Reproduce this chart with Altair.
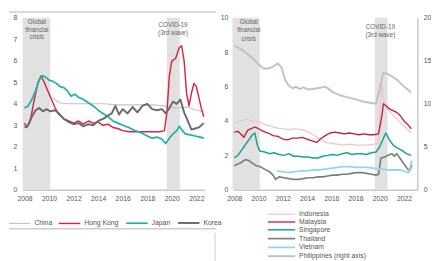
import altair as alt
import pandas as pd

# ---------------- Left panel data ----------------
left_series = ["China", "Hong Kong", "Japan", "Korea"]
left_colors = ["#c4c4c4", "#d7263d", "#1ab3a6", "#6b6b6b"]
left_widths = [1.2, 2.0, 1.6, 1.3]

china_x = [2010.3, 2010.8, 2011.5, 2012.5, 2013.5, 2014.5, 2015.5, 2016.5, 2017.5, 2018.5, 2019.3, 2019.8, 2020.5, 2021.3, 2022.0, 2022.6]
china_y = [4.3, 4.05, 4.0, 4.0, 4.0, 4.0, 3.95, 3.95, 3.95, 3.95, 3.9, 3.85, 3.8, 3.85, 3.7, 3.65]

hk_x = [2008.0, 2008.2, 2008.5, 2008.8, 2009.1, 2009.35, 2009.6, 2009.9, 2010.2, 2010.5, 2010.8, 2011.2, 2011.6, 2012.0, 2012.4, 2012.8, 2013.2, 2013.6, 2014.0, 2014.4, 2014.8, 2015.2, 2015.6, 2016.0, 2016.5, 2017.0, 2017.5, 2018.0, 2018.5, 2019.0, 2019.4, 2019.6, 2019.8, 2020.0, 2020.3, 2020.6, 2020.8, 2021.0, 2021.2, 2021.4, 2021.6, 2021.8, 2022.0, 2022.2, 2022.4, 2022.6]
hk_y = [3.1, 2.9, 3.3, 4.2, 5.0, 5.3, 5.0, 4.6, 4.2, 3.8, 3.5, 3.3, 3.2, 3.1, 3.2, 3.05, 3.2, 3.1, 3.15, 3.0, 3.05, 2.9, 2.85, 2.75, 2.7, 2.7, 2.7, 2.7, 2.7, 2.7, 2.75, 3.6, 5.3, 6.0, 6.1, 6.6, 6.7, 6.0, 4.5, 3.9, 4.5, 4.95, 4.8, 4.3, 3.8, 3.4]

japan_x = [2008.0, 2008.3, 2008.6, 2008.9, 2009.2, 2009.45, 2009.7, 2010.0, 2010.3, 2010.6, 2010.9, 2011.2, 2011.5, 2011.8, 2012.1, 2012.4, 2012.8, 2013.2, 2013.6, 2014.0, 2014.4, 2014.8, 2015.2, 2015.6, 2016.0, 2016.5, 2017.0, 2017.5, 2018.0, 2018.4, 2018.8, 2019.2, 2019.5, 2019.8, 2020.1, 2020.4, 2020.6, 2020.8, 2021.1, 2021.5, 2021.9, 2022.3, 2022.6]
japan_y = [3.8, 3.9, 4.2, 4.6, 5.1, 5.3, 5.25, 5.1, 5.05, 4.95, 4.8, 4.75, 4.6, 4.35, 4.45, 4.3, 4.2, 4.05, 3.9, 3.7, 3.55, 3.4, 3.2, 3.1, 3.0, 2.9, 2.75, 2.65, 2.5, 2.4, 2.45, 2.35, 2.15, 2.4, 2.6, 2.75, 2.95, 2.8, 2.6, 2.55, 2.5, 2.45, 2.4]

korea_x = [2008.0, 2008.3, 2008.6, 2008.9, 2009.2, 2009.5, 2009.8, 2010.1, 2010.5, 2010.8, 2011.2, 2011.6, 2012.0, 2012.4, 2012.8, 2013.2, 2013.6, 2014.0, 2014.4, 2014.8, 2015.1, 2015.4, 2015.7, 2016.0, 2016.4, 2016.8, 2017.2, 2017.6, 2018.0, 2018.4, 2018.8, 2019.2, 2019.5, 2019.8, 2020.1, 2020.4, 2020.7, 2021.0, 2021.3, 2021.6, 2021.9, 2022.2, 2022.6]
korea_y = [2.9, 3.0, 3.4, 3.7, 3.8, 3.65, 3.75, 3.65, 3.7, 3.55, 3.3, 3.15, 3.05, 3.1, 2.95, 3.05, 3.0, 3.2, 3.3, 3.45, 3.55, 3.9, 3.5, 3.75, 3.55, 3.85, 3.6, 3.9, 4.0, 3.75, 3.7, 3.75, 3.55, 3.8, 4.1, 4.0, 4.2, 3.6, 3.2, 2.8, 2.85, 2.9, 3.1]

# ---------------- Right panel data ----------------
right_series = ["Indonesia", "Malaysia", "Singapore", "Thailand", "Vietnam", "Philippines (right axis)"]
right_colors = ["#efc3c8", "#c21f3a", "#17a48e", "#7d7d7d", "#93d8ea", "#c6c1c1"]
right_widths = [1.2, 2.0, 2.0, 1.5, 1.3, 1.2]

indo_x = [2008.0, 2008.5, 2009.0, 2009.5, 2010.0, 2010.5, 2011.0, 2011.5, 2012.0, 2012.5, 2013.0, 2013.5, 2014.0, 2014.5, 2015.0, 2015.5, 2016.0, 2016.5, 2017.0, 2017.5, 2018.0, 2018.5, 2019.0, 2019.5, 2019.9, 2020.15, 2020.25, 2020.4, 2020.6, 2020.9, 2021.3, 2021.7, 2022.0, 2022.3, 2022.6]
indo_y = [3.9, 4.0, 4.1, 4.0, 3.95, 3.8, 3.7, 3.6, 3.55, 3.5, 3.55, 3.5, 3.4, 3.2, 3.0, 2.75, 2.7, 2.65, 2.6, 2.65, 2.6, 2.6, 2.6, 2.65, 2.7, 6.2, 5.6, 4.9, 4.7, 4.5, 4.2, 3.9, 3.7, 3.5, 3.3]

my_x = [2008.0, 2008.3, 2008.6, 2008.8, 2009.1, 2009.4, 2009.7, 2010.0, 2010.4, 2010.8, 2011.2, 2011.6, 2012.0, 2012.4, 2012.8, 2013.2, 2013.6, 2014.0, 2014.4, 2014.8, 2015.1, 2015.5, 2015.9, 2016.3, 2016.7, 2017.1, 2017.5, 2017.9, 2018.3, 2018.7, 2019.1, 2019.5, 2019.9, 2020.2, 2020.3, 2020.5, 2020.8, 2021.1, 2021.4, 2021.7, 2022.0, 2022.3, 2022.6]
my_y = [3.35, 3.4, 3.2, 3.05, 3.45, 3.55, 3.65, 3.55, 3.4, 3.3, 3.15, 3.1, 2.95, 2.9, 3.0, 3.0, 3.05, 2.95, 2.85, 2.75, 2.95, 3.15, 3.3, 3.35, 3.3, 3.25, 3.3, 3.25, 3.2, 3.25, 3.2, 3.2, 3.25, 4.4, 5.0, 4.9, 4.7, 4.6, 4.5, 4.3, 4.0, 3.8, 3.55]

sg_x = [2008.0, 2008.3, 2008.6, 2008.9, 2009.2, 2009.5, 2009.7, 2009.9, 2010.1, 2010.5, 2010.9, 2011.3, 2011.7, 2012.1, 2012.5, 2012.9, 2013.3, 2013.7, 2014.1, 2014.5, 2014.9, 2015.3, 2015.7, 2016.1, 2016.5, 2016.9, 2017.3, 2017.7, 2018.1, 2018.5, 2018.9, 2019.3, 2019.7, 2020.0, 2020.3, 2020.5, 2020.8, 2021.1, 2021.4, 2021.8, 2022.2, 2022.6]
sg_y = [1.85, 2.0, 2.3, 2.6, 2.9, 3.2, 3.3, 2.6, 2.25, 2.2, 2.1, 2.15, 2.05, 2.0, 2.1, 1.95, 1.95, 1.9, 1.9, 1.85, 1.85, 1.95, 2.0, 2.05, 2.0, 2.1, 2.15, 2.05, 2.1, 2.1, 2.05, 2.15, 2.2, 2.5, 3.0, 3.3, 2.9, 2.6, 2.45, 2.3, 2.1, 2.0]

th_x = [2008.0, 2008.3, 2008.6, 2008.9, 2009.2, 2009.5, 2009.8, 2010.1, 2010.5, 2010.9, 2011.2, 2011.4, 2011.7, 2012.1, 2012.5, 2012.9, 2013.3, 2013.7, 2014.1, 2014.5, 2014.9, 2015.3, 2015.7, 2016.1, 2016.5, 2016.9, 2017.3, 2017.7, 2018.1, 2018.5, 2018.9, 2019.3, 2019.7, 2019.9, 2020.1, 2020.4, 2020.7, 2021.0, 2021.2, 2021.4, 2021.7, 2022.0, 2022.3, 2022.5, 2022.65]
th_y = [1.4, 1.5, 1.6, 1.75, 1.7, 1.55, 1.4, 1.35, 1.2, 1.05, 0.85, 0.6, 0.75, 0.7, 0.65, 0.6, 0.6, 0.65, 0.7, 0.7, 0.75, 0.75, 0.8, 0.85, 0.85, 0.9, 0.9, 0.95, 1.0, 1.0, 0.95, 0.9, 0.85, 0.9, 1.85, 1.9, 2.0, 2.1, 1.95, 2.1, 1.8, 1.5, 1.2, 1.15, 1.45]

vn_x = [2011.5, 2012.0, 2012.5, 2013.0, 2013.5, 2014.0, 2014.5, 2015.0, 2015.5, 2016.0, 2016.5, 2017.0, 2017.5, 2018.0, 2018.5, 2019.0, 2019.5, 2019.9, 2020.3, 2020.7, 2021.2, 2021.7, 2022.1, 2022.4, 2022.65]
vn_y = [1.1, 1.05, 1.0, 1.05, 1.1, 1.1, 1.15, 1.15, 1.2, 1.25, 1.3, 1.35, 1.35, 1.3, 1.3, 1.3, 1.25, 1.2, 1.2, 1.15, 1.15, 1.15, 1.05, 1.0, 1.7]

ph_x = [2008.0, 2008.5, 2009.0, 2009.5, 2010.0, 2010.4, 2010.8, 2011.2, 2011.6, 2011.9, 2012.2, 2012.5, 2012.8, 2013.1, 2013.4, 2013.7, 2014.0, 2014.4, 2014.8, 2015.2, 2015.5, 2015.8, 2016.2, 2016.7, 2017.2, 2017.8, 2018.3, 2018.8, 2019.3, 2019.7, 2020.3, 2020.6, 2021.0, 2021.5, 2022.0, 2022.6]
ph_y = [16.8, 16.4, 15.9, 15.3, 14.6, 14.1, 14.1, 14.3, 14.7, 14.2, 12.8, 12.1, 11.8, 12.0, 11.7, 11.9, 11.7, 11.7, 11.8, 11.9, 12.0, 11.7, 11.3, 11.0, 10.8, 10.6, 10.4, 10.2, 10.1, 10.0, 13.6, 13.5, 13.2, 12.7, 12.0, 11.3]

# shaded episodes and annotations
shade_start = [2007.85, 2019.6]
shade_end = [2010.1, 2020.65]

left_ann_text = ["Global", "financial", "crisis", "COVID-19", "(3rd wave)"]
left_ann_x = [2009.0, 2009.0, 2009.0, 2020.1, 2020.1]
left_ann_y = [7.82, 7.45, 7.09, 7.68, 7.27]

right_ann_text = ["Global", "financial", "crisis", "COVID-19", "(3rd wave)"]
right_ann_x = [2009.2, 2009.2, 2009.2, 2020.05, 2020.05]
right_ann_y = [9.77, 9.26, 8.75, 9.49, 8.98]

year_ticks = list(range(2008, 2023, 2))


def frame(name, xs, ys):
    return pd.DataFrame({"series": name, "year": xs, "value": ys})


left_df = pd.concat([
    frame("China", china_x, china_y),
    frame("Hong Kong", hk_x, hk_y),
    frame("Japan", japan_x, japan_y),
    frame("Korea", korea_x, korea_y),
])
right_left_df = pd.concat([
    frame("Indonesia", indo_x, indo_y),
    frame("Malaysia", my_x, my_y),
    frame("Singapore", sg_x, sg_y),
    frame("Thailand", th_x, th_y),
    frame("Vietnam", vn_x, vn_y),
])
right_right_df = frame("Philippines (right axis)", ph_x, ph_y)

FONT = "Liberation Sans"
LBL = "#555555"
W = 186
H = 176

shade_df = pd.DataFrame({"s": shade_start, "e": shade_end})


def xaxis():
    return alt.Axis(values=year_ticks, format="d", title=None, grid=False, tickCount=40,
                    ticks=False, domainColor="#c8c8c8", domainWidth=1.5,
                    labelFontSize=7, labelColor=LBL, labelFont=FONT,
                    labelPadding=5, labelOverlap=False, labelFlush=False)


def yaxis(vals, orient="left", domain=False):
    return alt.Axis(values=vals, orient=orient, title=None, grid=False, domain=domain,
                    format="d", domainColor="#c8c8c8", domainWidth=1.5, ticks=False,
                    tickCount=40, labelFontSize=7, labelColor=LBL, labelFont=FONT,
                    labelPadding=6, labelOverlap=False)


# ---------------- Left panel ----------------
ldom = [2007.85, 2022.65]
lx = alt.Scale(domain=ldom, nice=False, zero=False)
l_shade = alt.Chart(shade_df).mark_rect(color="#dcdcdc", opacity=0.85).encode(
    x=alt.X("s:Q", scale=lx, axis=xaxis()),
    x2="e:Q", y=alt.value(0), y2=alt.value(H))

l_lines = alt.Chart(left_df).mark_line(strokeJoin="round").encode(
    x=alt.X("year:Q", scale=lx, axis=xaxis()),
    y=alt.Y("value:Q", scale=alt.Scale(domain=[0, 8], nice=False),
            axis=yaxis(list(range(0, 9)))),
    color=alt.Color("series:N", scale=alt.Scale(domain=left_series, range=left_colors),
                    sort=left_series,
                    legend=alt.Legend(title=None, orient="none", direction="horizontal",
                                      legendX=-1, legendY=205, symbolType="M-4.5,0L1,0",
                                      symbolSize=64, symbolStrokeWidth=2,
                                      labelFontSize=7, labelColor=LBL, labelFont=FONT,
                                      columnPadding=3, labelOffset=3)),
    strokeWidth=alt.StrokeWidth("series:N", scale=alt.Scale(domain=left_series, range=left_widths),
                                legend=None),
    detail="series:N",
)

l_ann = alt.Chart(pd.DataFrame({"t": left_ann_text, "x": left_ann_x, "y": left_ann_y})).mark_text(
    fontSize=6.5, color="#666666", font=FONT).encode(x=alt.X("x:Q", scale=lx), y="y:Q", text="t:N")

l_top = alt.Chart(pd.DataFrame({"a": [0]})).mark_rule(color="#cccccc", strokeWidth=1.5).encode(
    x=alt.value(-14), x2=alt.value(198), y=alt.value(-6))
l_bot = alt.Chart(pd.DataFrame({"a": [0]})).mark_rule(color="#cccccc", strokeWidth=1.5).encode(
    x=alt.value(-14), x2=alt.value(198), y=alt.value(216))
l_vert = alt.Chart(pd.DataFrame({"a": [0]})).mark_rule(color="#d0d0d0", strokeWidth=1).encode(
    x=alt.value(197), y=alt.value(220), y2=alt.value(250))

left = alt.layer(l_shade, l_ann, l_lines, l_top, l_bot, l_vert).properties(width=W, height=H)

# ---------------- Right panel ----------------
rdom = [2007.95, 2023.1]
rx = alt.Scale(domain=rdom, nice=False, zero=False)
r_shade = alt.Chart(shade_df).mark_rect(color="#dcdcdc", opacity=0.85).encode(
    x=alt.X("s:Q", scale=rx, axis=xaxis()),
    x2="e:Q", y=alt.value(0), y2=alt.value(H))

rcolor = alt.Color("series:N", scale=alt.Scale(domain=right_series, range=right_colors),
                   sort=right_series,
                   legend=alt.Legend(title=None, orient="none", direction="vertical",
                                     legendX=54, legendY=196, symbolType="M-6,0L1,0",
                                     symbolSize=64, symbolStrokeWidth=1.8,
                                     labelFontSize=7, labelColor=LBL, labelFont=FONT,
                                     rowPadding=0, labelOffset=3))
rwidth = alt.StrokeWidth("series:N", scale=alt.Scale(domain=right_series, range=right_widths),
                         legend=None)

r_lines = alt.Chart(right_left_df).mark_line(strokeJoin="round").encode(
    x=alt.X("year:Q", scale=rx, axis=xaxis()),
    y=alt.Y("value:Q", scale=alt.Scale(domain=[0, 10], nice=False),
            axis=yaxis(list(range(0, 11, 2)))),
    color=rcolor, strokeWidth=rwidth, detail="series:N")

r_ann = alt.Chart(pd.DataFrame({"t": right_ann_text, "x": right_ann_x, "y": right_ann_y})).mark_text(
    fontSize=6.5, color="#666666", font=FONT).encode(
    x=alt.X("x:Q", scale=rx), y=alt.Y("y:Q", scale=alt.Scale(domain=[0, 10], nice=False)), text="t:N")

r_ph = alt.Chart(right_right_df).mark_line(strokeJoin="round").encode(
    x=alt.X("year:Q", scale=rx, axis=xaxis()),
    y=alt.Y("value:Q", scale=alt.Scale(domain=[0, 20], nice=False),
            axis=yaxis(list(range(0, 21, 5)), orient="right", domain=True)),
    color=rcolor, strokeWidth=rwidth, detail="series:N")

right_main = alt.layer(r_shade, r_ann, r_lines)
right = alt.layer(right_main, r_ph).resolve_scale(y="independent").properties(width=188, height=H)

chart = alt.hconcat(left, right, spacing=30, bounds="flush").resolve_scale(
    color="independent", strokeWidth="independent").properties(padding=0).configure_view(stroke=None)

chart.save("out.html", embed_options={"renderer": "svg", "actions": False})
